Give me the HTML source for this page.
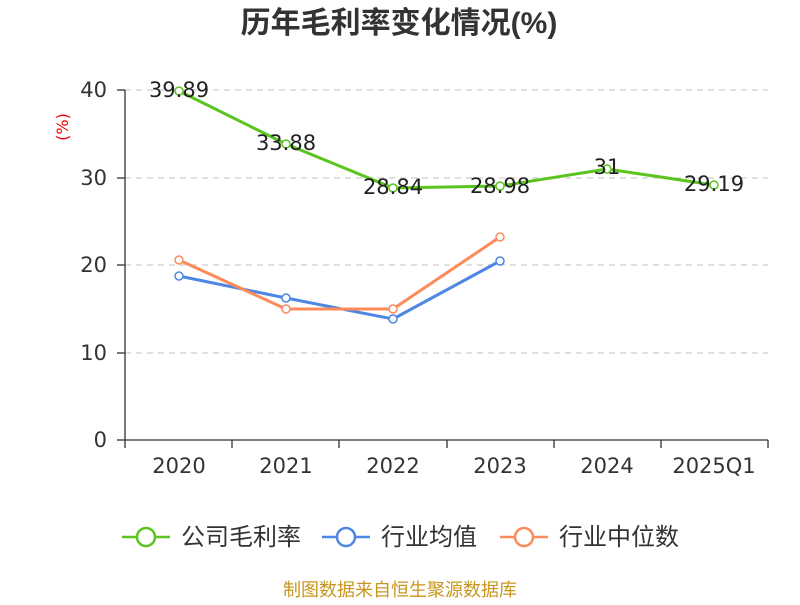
<!DOCTYPE html>
<html><head><meta charset="utf-8"><style>body{margin:0;background:#fff}</style></head><body>
<svg width="800" height="600" xmlns="http://www.w3.org/2000/svg" font-family="DejaVu Sans, Noto Sans CJK SC, sans-serif">
<text x="399" y="33" text-anchor="middle" font-size="30" font-weight="bold" fill="#333" font-family="Liberation Sans, Noto Sans CJK SC, sans-serif">历年毛利率变化情况(%)</text>
<text x="68" y="127" text-anchor="middle" font-size="16" fill="#e00" transform="rotate(-90 68 127)">(%)</text>
<g stroke="#ccc" stroke-dasharray="6,5" stroke-width="1.3">
<line x1="125" y1="90" x2="768" y2="90"/><line x1="125" y1="178" x2="768" y2="178"/><line x1="125" y1="265" x2="768" y2="265"/><line x1="125" y1="353" x2="768" y2="353"/>
</g>
<g stroke="#333" stroke-width="1.3">
<line x1="125" y1="90" x2="125" y2="440"/><line x1="125" y1="440" x2="768" y2="440"/>
<line x1="117" y1="90" x2="125" y2="90"/><line x1="117" y1="178" x2="125" y2="178"/><line x1="117" y1="265" x2="125" y2="265"/><line x1="117" y1="353" x2="125" y2="353"/><line x1="117" y1="440" x2="125" y2="440"/>
<line x1="125" y1="440" x2="125" y2="448"/><line x1="232" y1="440" x2="232" y2="448"/><line x1="339" y1="440" x2="339" y2="448"/><line x1="447" y1="440" x2="447" y2="448"/><line x1="554" y1="440" x2="554" y2="448"/><line x1="661" y1="440" x2="661" y2="448"/><line x1="768" y1="440" x2="768" y2="448"/>
</g>
<g font-size="21" fill="#333" text-anchor="end">
<text x="107" y="97">40</text><text x="107" y="185">30</text><text x="107" y="272">20</text><text x="107" y="360">10</text><text x="107" y="447">0</text>
</g>
<g font-size="21" fill="#333" text-anchor="middle">
<text x="179" y="473">2020</text><text x="286" y="473">2021</text><text x="393" y="473">2022</text><text x="500" y="473">2023</text><text x="607" y="473">2024</text><text x="714" y="473">2025Q1</text>
</g>
<polyline fill="none" stroke="#4e86e4" stroke-width="3" points="179,276 286,298 393,319 500,261"/>
<polyline fill="none" stroke="#fb8b5a" stroke-width="3" points="179,260 286,309 393,309 500,237"/>
<polyline fill="none" stroke="#5cc41f" stroke-width="3" points="179,91 286,144 393,188 500,186 607,169 714,185"/>
<g fill="#fff" stroke-width="1.5">
<g stroke="#4e86e4"><circle cx="179" cy="276" r="4"/><circle cx="286" cy="298" r="4"/><circle cx="393" cy="319" r="4"/><circle cx="500" cy="261" r="4"/></g>
<g stroke="#fb8b5a"><circle cx="179" cy="260" r="4"/><circle cx="286" cy="309" r="4"/><circle cx="393" cy="309" r="4"/><circle cx="500" cy="237" r="4"/></g>
<g stroke="#5cc41f"><circle cx="179" cy="91" r="4"/><circle cx="286" cy="144" r="4"/><circle cx="393" cy="188" r="4"/><circle cx="500" cy="186" r="4"/><circle cx="607" cy="169" r="4"/><circle cx="714" cy="185" r="4"/></g>
</g>
<g font-size="21" fill="#222" text-anchor="middle">
<text x="179" y="97">39.89</text><text x="286" y="150">33.88</text><text x="393" y="194">28.84</text><text x="500" y="193">28.98</text><text x="607" y="174">31</text><text x="714" y="191">29.19</text>
</g>
<g stroke-width="2.5" fill="#fff">
<line x1="122" y1="537" x2="170" y2="537" stroke="#5cc41f"/><circle cx="146" cy="537" r="9" stroke="#5cc41f"/>
<line x1="322" y1="537" x2="370" y2="537" stroke="#4e86e4"/><circle cx="346" cy="537" r="9" stroke="#4e86e4"/>
<line x1="500" y1="537" x2="548" y2="537" stroke="#fb8b5a"/><circle cx="524" cy="537" r="9" stroke="#fb8b5a"/>
</g>
<g font-size="24" fill="#333">
<text x="181" y="545">公司毛利率</text><text x="381" y="545">行业均值</text><text x="559" y="545">行业中位数</text>
</g>
<text x="400" y="596" text-anchor="middle" font-size="18" fill="#c8961e">制图数据来自恒生聚源数据库</text>
</svg>
</body></html>
